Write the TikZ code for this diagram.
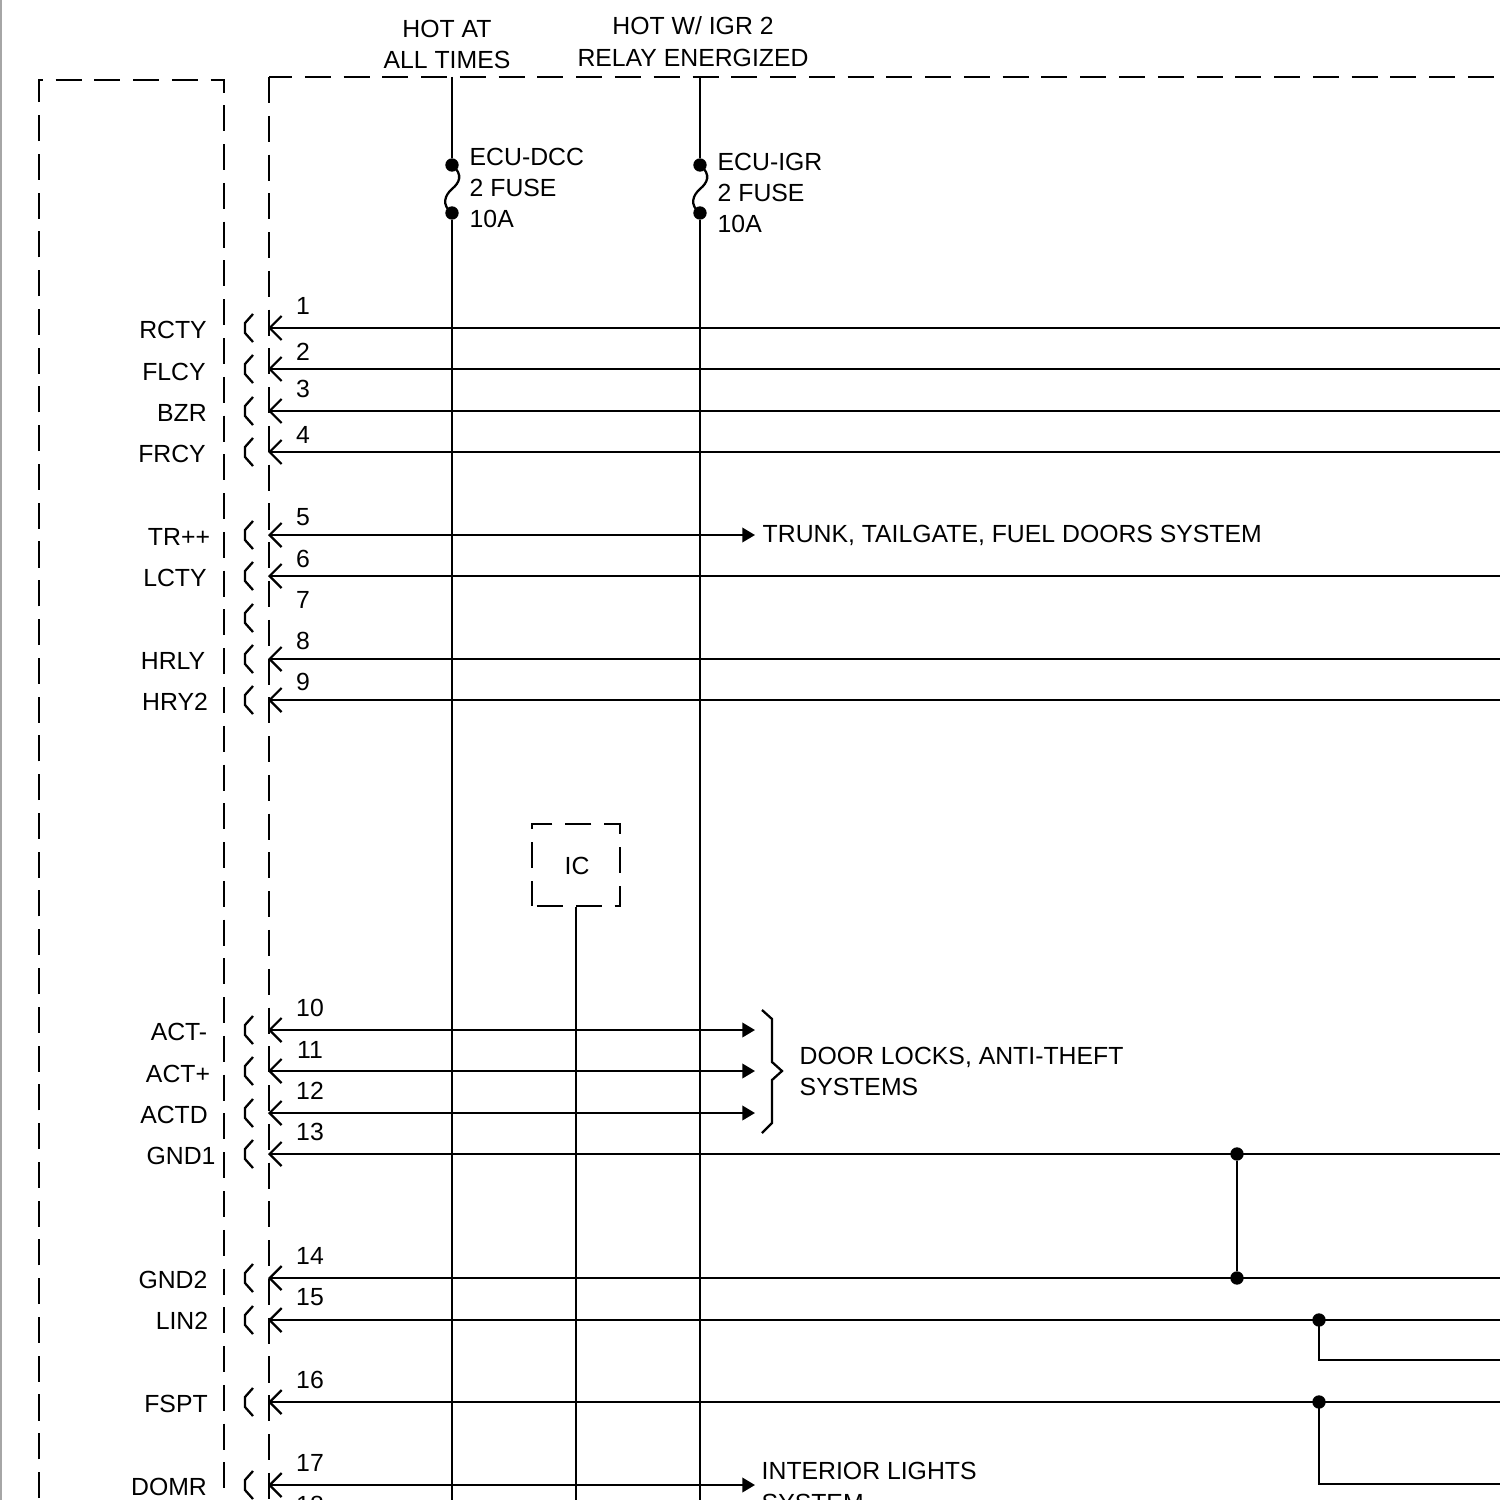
\documentclass[tikz,border=0pt]{standalone}
\usepackage{fontspec}
\setmainfont{Liberation Sans}
\usetikzlibrary{positioning,calc,arrows.meta}
\tikzset{
	wire/.style={line width=0.65pt},
	pinwire/.style={wire, {Straight Barb[length=3.4pt,width=6.8pt]}-},
	bothwire/.style={wire, {Straight Barb[length=3.4pt,width=6.8pt]}-{Triangle[length=3.6pt,width=4.1pt]}},
	bound/.style={line width=0.7pt, dash pattern=on 0.26cm off 0.1275cm},
	txt/.style={inner sep=0pt, font=\fontsize{7.05}{8.9}\selectfont},
	lbl/.style={txt, anchor=west, align=left},
	dot/.style={circle, fill=black, inner sep=0pt, minimum size=3.8pt},
	sock/.pic={\draw[wire] (8,-14) -- (0,-5) -- (0,5) -- (8,14);}
}
\begin{document}
\begin{tikzpicture}[x=0.01cm, y=-0.01cm]
	\useasboundingbox (0,0) rectangle (1500,1500);
	\clip (0,0) rectangle (1500,1500);
	\fill[gray!70] (0,0) rectangle (2,1500);

	% housing outlines
	\draw[bound, dash phase=0.3678cm] (39,1500) -- (39,80) -- (224,80) -- (224,1500);
	\draw[bound] (269,77) -- (269,1500);
	\draw[bound, dash phase=0.03cm] (269,77) -- (1500,77);

	% supply lines and fuses
	\node[txt, align=center] (hot1) at (447,44.5) {HOT AT\\ALL TIMES};
	\node[txt, align=center] (hot2) at (693,41.5) {HOT W/ IGR 2\\RELAY ENERGIZED};
	\coordinate (t1) at (452,77);
	\coordinate (t2) at (700,77);
	\coordinate (b1) at (452,1500);
	\coordinate (b2) at (700,1500);
	\node[dot] (f1a) at (452,165) {};
	\node[dot] (f1b) at (452,213) {};
	\node[dot] (f2a) at (700,165) {};
	\node[dot] (f2b) at (700,213) {};
	\node[lbl] (fuse1) at (469,188) {ECU-DCC\\2 FUSE\\10A};
	\node[lbl] (fuse2) at (717,193) {ECU-IGR\\2 FUSE\\10A};
	\draw[wire] (t1) -- (f1a);
	\draw[wire] (f1b) -- (b1);
	\draw[wire] (t2) -- (f2a);
	\draw[wire] (f2b) -- (b2);
	\draw[wire] (f1a.center) .. controls (464,175) and (459,183) .. (452,189) .. controls (445,195) and (441,205) .. (f1b.center);
	\draw[wire] (f2a.center) .. controls (712,175) and (707,183) .. (700,189) .. controls (693,195) and (689,205) .. (f2b.center);

	% IC
	\node[draw, bound, dash phase=0.3375cm, minimum width=0.88cm, minimum height=0.82cm, inner sep=0pt] (ic) at (576,865) {};
	\node[txt] (ictxt) at (577,866) {IC};
	\coordinate (b3) at (576,1500);
	\draw[wire] (ic) -- (b3);

	% pin names
	\node[txt] (rcty) at (173,330) {RCTY};
	\node[txt] (flcy) at (174,372) {FLCY};
	\node[txt] (bzr) at (182,413) {BZR};
	\node[txt] (frcy) at (172,454) {FRCY};
	\node[txt] (trpp) at (179,537) {TR++};
	\node[txt] (lcty) at (175,578) {LCTY};
	\node[txt] (hrly) at (173,661) {HRLY};
	\node[txt] (hry2) at (175,702) {HRY2};
	\node[txt] (actm) at (179,1032) {ACT-};
	\node[txt] (actp) at (178,1074) {ACT+};
	\node[txt] (actd) at (174,1115) {ACTD};
	\node[txt] (gnd1) at (181,1156) {GND1};
	\node[txt] (gnd2) at (173,1280) {GND2};
	\node[txt] (lin2) at (182,1321) {LIN2};
	\node[txt] (fspt) at (176,1404) {FSPT};
	\node[txt] (domr) at (169,1487) {DOMR};

	% pin numbers
	\node[txt] (n1) at (303,306) {1};
	\node[txt] (n2) at (303,352) {2};
	\node[txt] (n3) at (303,389) {3};
	\node[txt] (n4) at (303,435) {4};
	\node[txt] (n5) at (303,517) {5};
	\node[txt] (n6) at (303,559) {6};
	\node[txt] (n7) at (303,600) {7};
	\node[txt] (n8) at (303,641) {8};
	\node[txt] (n9) at (303,682) {9};
	\node[txt] (n10) at (310,1008) {10};
	\node[txt] (n11) at (310,1050) {11};
	\node[txt] (n12) at (310,1091) {12};
	\node[txt] (n13) at (310,1132) {13};
	\node[txt] (n14) at (310,1256) {14};
	\node[txt] (n15) at (310,1297) {15};
	\node[txt] (n16) at (310,1380) {16};
	\node[txt] (n17) at (310,1463) {17};
	\node[txt] (n18) at (310,1505) {18};

	% connector sockets
	\foreach \y in {328,369,411,452,535,576,618,659,700,1030,1071,1113,1154,1278,1320,1402,1485}
		\pic at (245,\y) {sock};

	% pins
	\coordinate (p1) at (268,328);
	\coordinate (p2) at (268,369);
	\coordinate (p3) at (268,411);
	\coordinate (p4) at (268,452);
	\coordinate (p5) at (268,535);
	\coordinate (p6) at (268,576);
	\coordinate (p8) at (268,659);
	\coordinate (p9) at (268,700);
	\coordinate (p10) at (268,1030);
	\coordinate (p11) at (268,1071);
	\coordinate (p12) at (268,1113);
	\coordinate (p13) at (268,1154);
	\coordinate (p14) at (268,1278);
	\coordinate (p15) at (268,1320);
	\coordinate (p16) at (268,1402);
	\coordinate (p17) at (268,1485);

	% wire ends
	\coordinate (r1) at (1500,328);
	\coordinate (r2) at (1500,369);
	\coordinate (r3) at (1500,411);
	\coordinate (r4) at (1500,452);
	\coordinate (r5) at (755,535);
	\coordinate (r6) at (1500,576);
	\coordinate (r8) at (1500,659);
	\coordinate (r9) at (1500,700);
	\coordinate (r10) at (755,1030);
	\coordinate (r11) at (755,1071);
	\coordinate (r12) at (755,1113);
	\coordinate (r13) at (1500,1154);
	\coordinate (r14) at (1500,1278);
	\coordinate (r15) at (1500,1320);
	\coordinate (r15b) at (1500,1360);
	\coordinate (r16) at (1500,1402);
	\coordinate (r16b) at (1500,1484);
	\coordinate (r17) at (755,1485);

	\draw[pinwire] (p1) -- (r1);
	\draw[pinwire] (p2) -- (r2);
	\draw[pinwire] (p3) -- (r3);
	\draw[pinwire] (p4) -- (r4);
	\draw[bothwire] (p5) -- (r5);
	\draw[pinwire] (p6) -- (r6);
	\draw[pinwire] (p8) -- (r8);
	\draw[pinwire] (p9) -- (r9);
	\draw[bothwire] (p10) -- (r10);
	\draw[bothwire] (p11) -- (r11);
	\draw[bothwire] (p12) -- (r12);
	\draw[pinwire] (p13) -- (r13);
	\draw[pinwire] (p14) -- (r14);
	\draw[pinwire] (p15) -- (r15);
	\draw[pinwire] (p16) -- (r16);
	\draw[bothwire] (p17) -- (r17);

	% splices
	\node[dot] (j1) at (1237,1154) {};
	\node[dot] (j2) at (1237,1278) {};
	\node[dot] (j3) at (1319,1320) {};
	\node[dot] (j4) at (1319,1402) {};
	\draw[wire] (j1) -- (j2);
	\draw[wire] (j3.center) |- (r15b);
	\draw[wire] (j4.center) |- (r16b);

	% destinations
	\node[lbl] (trunk) at (762,535) {TRUNK, TAILGATE, FUEL DOORS SYSTEM};
	\node[lbl] (door) at (799,1071.5) {DOOR LOCKS, ANTI-THEFT\\SYSTEMS};
	\node[lbl] (inter) at (761,1487) {INTERIOR LIGHTS\\SYSTEM};
	\draw[wire] (762,1010) -- (772,1019) -- (772,1062) -- (782,1071) -- (772,1080) -- (772,1123) -- (762,1133);
\end{tikzpicture}
\end{document}
